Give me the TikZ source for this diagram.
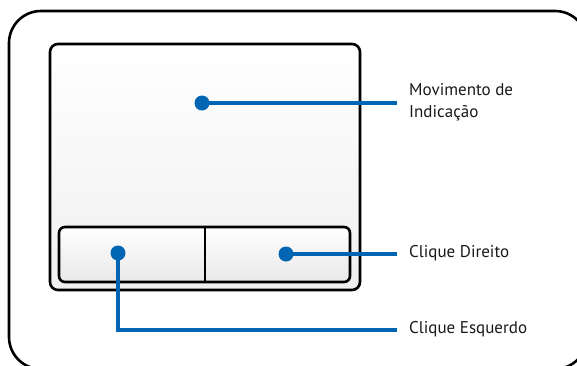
\documentclass[tikz,border=0pt]{standalone}
\usepackage{fontspec}
\setmainfont{PT Sans}
\definecolor{pblue}{HTML}{0066B3}
\begin{document}
\begin{tikzpicture}[x=1bp,y=-1bp,
  frame/.style={draw=black,line width=2.6bp},
  lead/.style={draw=pblue,line width=3.6bp},
  dotc/.style={circle,fill=pblue,inner sep=0pt,minimum size=15bp},
  lbl/.style={anchor=west,font=\fontsize{17bp}{22bp}\selectfont,align=left,inner sep=0pt,text=black!90}]
\useasboundingbox (0,0) rectangle (577,365);
\clip (0,0) rectangle (577,365);
% outer frame
\draw[frame,rounded corners=32bp] (9,11) rectangle (587,369);
% pad
\path[frame,rounded corners=8bp,top color=white,bottom color=black!6] (50,44) rectangle (360,290);
% buttons
\path[frame,rounded corners=6bp,top color=white,bottom color=black!9] (59,227) rectangle (350,282);
\draw[frame] (205,227) -- (205,282);
% dots
\node[dotc] (d1) at (202,103) {};
\node[dotc] (d2) at (286,254) {};
\node[dotc] (d3) at (118,253) {};
% labels
\node[lbl] (l1) at (409,102) {Movimento de\\Indicação};
\node[lbl] (l2) at (409,253) {Clique Direito};
\node[lbl] (l3) at (409,329) {Clique Esquerdo};
\coordinate (e1) at (397,103);
\coordinate (e2) at (397,254);
\coordinate (e3) at (397,330);
\draw[lead] (d1.center) -- (e1);
\draw[lead] (d2.center) -- (e2);
\draw[lead] (d3.center) |- (e3);
\end{tikzpicture}
\end{document}
